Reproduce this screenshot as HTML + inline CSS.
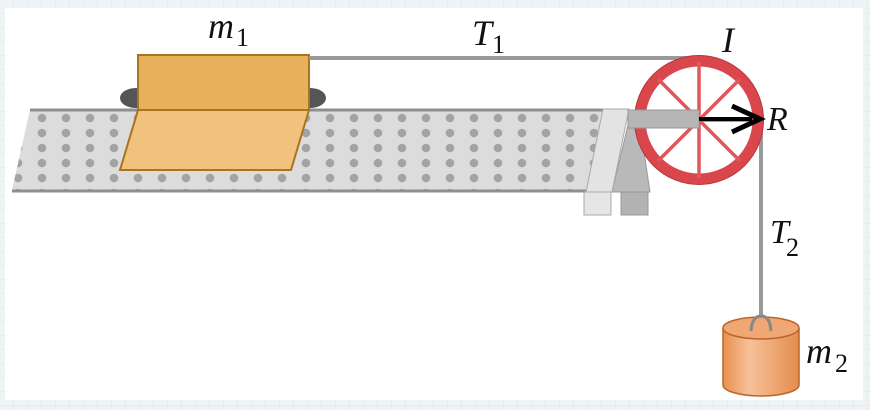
<!DOCTYPE html>
<html><head><style>
html,body{margin:0;padding:0;width:870px;height:410px;overflow:hidden;background:#eef3f6}
svg{display:block}
</style></head><body>
<svg width="870" height="410" viewBox="0 0 870 410" xmlns="http://www.w3.org/2000/svg">
<defs>
<pattern id="grid" width="14" height="14" patternUnits="userSpaceOnUse"><path d="M14 0V14H0" fill="none" stroke="#d7e4ec" stroke-width="1"/></pattern>
<pattern id="dots" x="6" y="111" width="24" height="15" patternUnits="userSpaceOnUse"><circle cx="12" cy="7" r="4.3" fill="#a3a3a3"/></pattern>
<linearGradient id="cyl" x1="0" x2="1"><stop offset="0" stop-color="#e9904f"/><stop offset="0.35" stop-color="#f7c19a"/><stop offset="1" stop-color="#e48c4c"/></linearGradient>
</defs>
<rect width="870" height="410" fill="url(#grid)"/>
<rect x="5" y="8" width="858" height="392" fill="#fff"/>
<!-- table -->
<polygon points="30,110 610,110 598,190 12,190" fill="#dcdcdc"/>
<polygon points="30,110 610,110 598,190 12,190" fill="url(#dots)"/>
<line x1="30" y1="110" x2="610" y2="110" stroke="#8f8f8f" stroke-width="3"/>
<line x1="12" y1="191" x2="598" y2="191" stroke="#8f8f8f" stroke-width="3"/>
<!-- block -->
<ellipse cx="136" cy="98" rx="16" ry="10" fill="#555"/>
<ellipse cx="310" cy="98" rx="16" ry="10" fill="#555"/>
<rect x="138" y="55" width="171" height="55" fill="#e8b05a" stroke="#a8741f" stroke-width="2"/>
<polygon points="138,110 309,110 291,170 120,170" fill="#f0c27e" stroke="#a8741f" stroke-width="2"/>
<!-- rope -->
<line x1="309" y1="58" x2="700" y2="58" stroke="#999" stroke-width="4"/>
<line x1="761" y1="120" x2="761" y2="320" stroke="#999" stroke-width="4"/>
<!-- bracket -->
<polygon points="628,125 640,125 650,192 612,192" fill="#b9b9b9" stroke="#999" stroke-width="1"/>
<rect x="621" y="192" width="27" height="23" fill="#b3b3b3" stroke="#999"/>
<rect x="584" y="192" width="27" height="23" fill="#e6e6e6" stroke="#aaa"/>
<polygon points="603,109 629,109 612,192 586,192" fill="#e3e3e3" stroke="#aaa" stroke-width="1"/>
<!-- pulley -->
<circle cx="699" cy="120" r="59" fill="none" stroke="#d9474c" stroke-width="11"/>
<circle cx="699" cy="120" r="64.5" fill="none" stroke="#b8353a" stroke-width="1"/>
<g stroke="#e0575b" stroke-width="3.5">
<line x1="699" y1="62" x2="699" y2="178"/>
<line x1="641" y1="120" x2="757" y2="120"/>
<line x1="658" y1="79" x2="740" y2="161"/>
<line x1="740" y1="79" x2="658" y2="161"/>
</g>
<rect x="628" y="110" width="71" height="18" fill="#b5b5b5" stroke="#999"/>
<line x1="699" y1="119" x2="752" y2="119" stroke="#000" stroke-width="4"/>
<polyline points="732,106 760,119 732,132" fill="none" stroke="#000" stroke-width="5"/>
<!-- cylinder -->
<path d="M723,328 V385 A38,11 0 0 0 799,385 V328" fill="url(#cyl)" stroke="#b8652a" stroke-width="1.5"/>
<ellipse cx="761" cy="328" rx="38" ry="11" fill="#f0a774" stroke="#b8652a" stroke-width="1.5"/>
<path d="M751,331 Q752,316 761,316 Q770,316 771,331" fill="none" stroke="#888" stroke-width="3"/>
<!-- labels -->
<g font-family="Liberation Serif, serif" font-style="italic" fill="#111">
<text x="208" y="38" font-size="36">m</text>
<text x="472" y="45" font-size="36">T</text>
<text x="722" y="52" font-size="36">I</text>
<text x="767" y="130" font-size="34">R</text>
<text x="770" y="243" font-size="34">T</text>
<text x="806" y="363" font-size="36">m</text>
</g>
<g font-family="Liberation Serif, serif" fill="#111" font-size="26">
<text x="236" y="46">1</text>
<text x="492" y="53">1</text>
<text x="786" y="256">2</text>
<text x="835" y="372">2</text>
</g>
</svg>
</body></html>
